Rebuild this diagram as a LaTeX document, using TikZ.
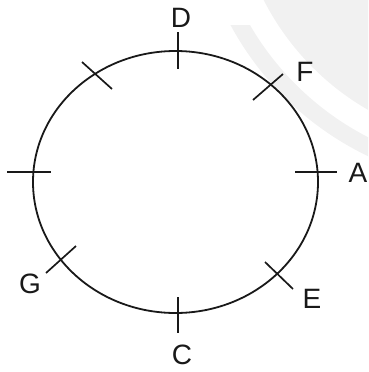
\documentclass[tikz,border=0pt]{standalone}
\usepackage{fontspec}
\setmainfont{Liberation Sans}
\begin{document}
\begin{tikzpicture}[x=1pt,y=-1pt,
  wm/.style={fill={rgb,255:red,241;green,241;blue,241}},
  curve/.style={draw={rgb,255:red,25;green,25;blue,25},line width=1.8pt},
  tick/.style={draw={rgb,255:red,25;green,25;blue,25},line width=1.7pt},
  lbl/.style={inner sep=0pt,text={rgb,255:red,25;green,25;blue,25},font=\fontsize{28}{30}\selectfont}]
\useasboundingbox (0,0) rectangle (368,372);
% faint watermark
\begin{scope}
  \clip (0,0) rectangle (368,372);
  \fill[wm] (500,-120) circle[radius=265pt];
\end{scope}
\begin{scope}
  \clip (0,25) rectangle (368,372);
  \fill[wm,even odd rule] (500,-120) circle[radius=306pt] (500,-120) circle[radius=289pt];
\end{scope}
% ring
\draw[curve] (175.5,182) ellipse[x radius=142.5pt, y radius=131pt];
% tick end points
\coordinate (d1) at (178,32);  \coordinate (d2) at (178,69);
\coordinate (f1) at (253,100); \coordinate (f2) at (283,74);
\coordinate (a1) at (295,172); \coordinate (a2) at (337,172);
\coordinate (e1) at (265,262); \coordinate (e2) at (293,289);
\coordinate (c1) at (178,297); \coordinate (c2) at (178,333);
\coordinate (g1) at (46,273);  \coordinate (g2) at (76,246);
\coordinate (l1) at (7,172);   \coordinate (l2) at (51,172);
\coordinate (t1) at (82,62);   \coordinate (t2) at (112,89);
\foreach \p in {d,f,a,e,c,g,l,t} \draw[tick] (\p1) -- (\p2);
% labels
\node[lbl] (D) at (181,17.5) {D};
\node[lbl] (F) at (305,72) {F};
\node[lbl] (A) at (358,173) {A};
\node[lbl] (E) at (312,298.5) {E};
\node[lbl] (C) at (182,355) {C};
\node[lbl] (G) at (30,284) {G};
\end{tikzpicture}
\end{document}
